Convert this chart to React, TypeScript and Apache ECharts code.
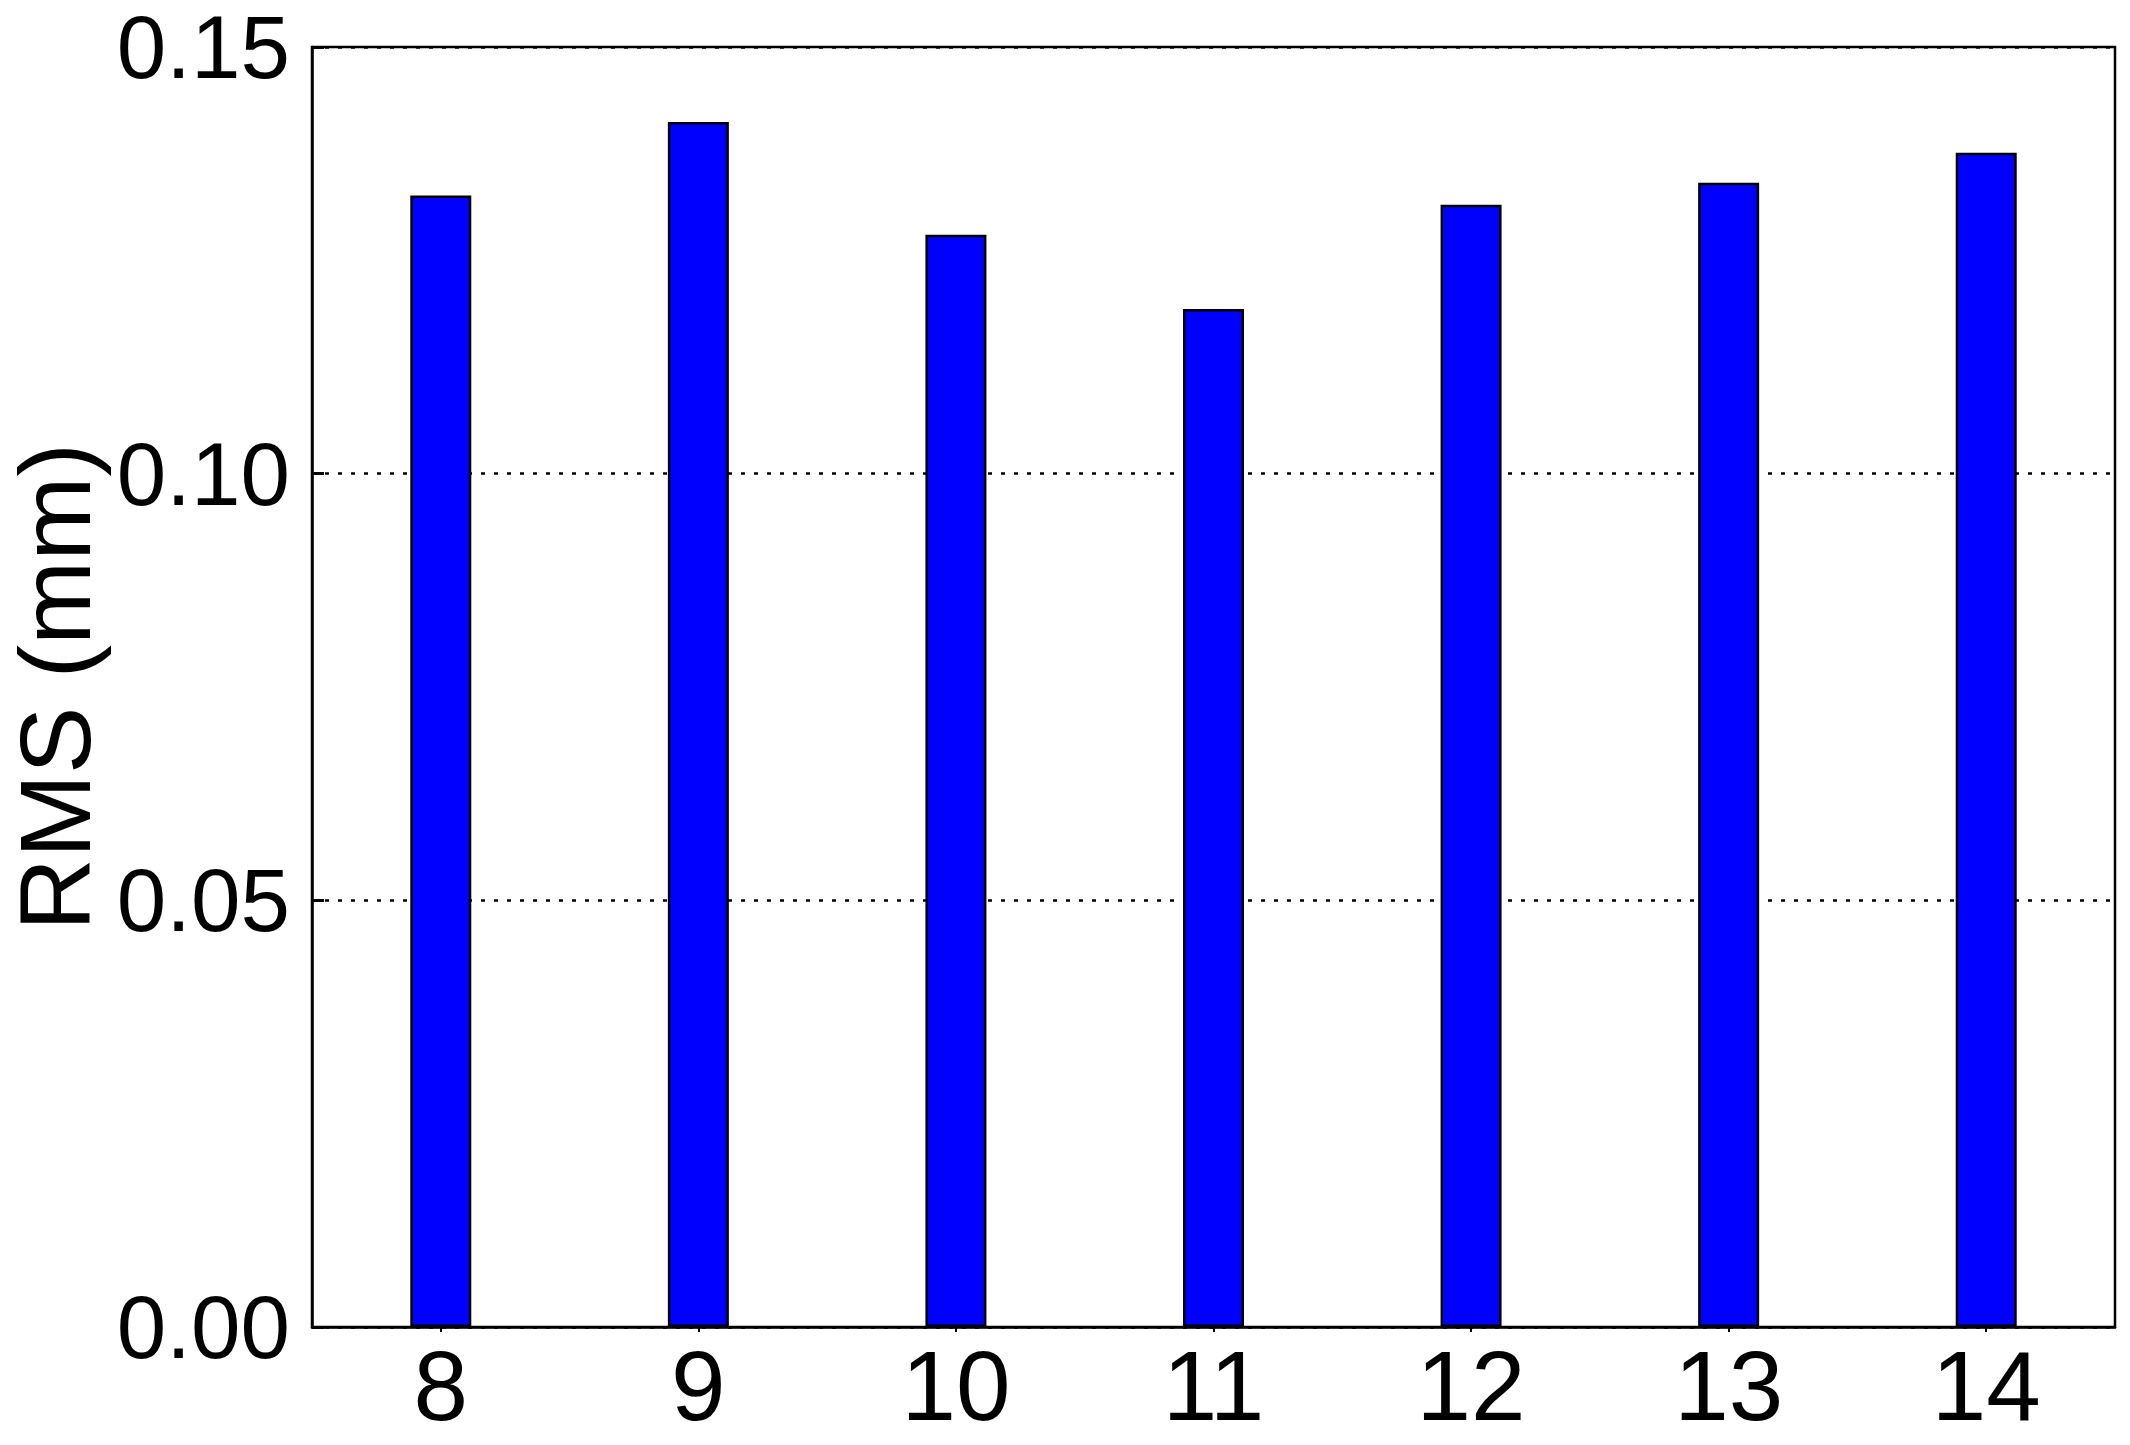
import React, { useEffect, useRef } from 'react';
import * as echarts from 'echarts';

const categories = ['8', '9', '10', '11', '12', '13', '14'];
const rmsValues = [0.1326, 0.1412, 0.128, 0.1193, 0.1315, 0.1341, 0.1376];
const yTicks = { min: 0, max: 0.15, interval: 0.05 };

const FONT = 'Liberation Sans, Arial, Helvetica, sans-serif';

export default function App() {
  const chartRef = useRef<HTMLDivElement>(null);

  useEffect(() => {
    document.body.style.margin = '0';
    if (!chartRef.current) return;
    const chart = echarts.init(chartRef.current, null, { renderer: 'svg' });

    const option = {
      animation: false,
      backgroundColor: '#fff',
      grid: {
        left: 312,
        right: 15,
        top: 47,
        bottom: 118,
        show: true,
        borderColor: '#000',
        borderWidth: 2.5,
        containLabel: false,
        outerBoundsMode: 'none'
      },
      xAxis: {
        type: 'category',
        data: categories,
        boundaryGap: true,
        axisLine: { show: true, lineStyle: { color: '#000', width: 2.5 } },
        axisTick: { show: true, alignWithLabel: true, length: 5, lineStyle: { color: '#000', width: 2 } },
        axisLabel: {
          color: '#000',
          fontFamily: FONT,
          fontSize: 98,
          lineHeight: 90,
          margin: 14
        },
        splitLine: { show: false }
      },
      yAxis: {
        type: 'value',
        min: yTicks.min,
        max: yTicks.max,
        interval: yTicks.interval,
        name: 'RMS (mm)',
        nameLocation: 'middle',
        nameGap: 205,
        nameTextStyle: { color: '#000', fontFamily: FONT, fontSize: 101, lineHeight: 90 },
        axisLine: { show: true, lineStyle: { color: '#000', width: 2.5 } },
        axisTick: { show: true, inside: true, length: 12, lineStyle: { color: '#000', width: 3 } },
        axisLabel: {
          color: '#000',
          fontFamily: FONT,
          fontSize: 89,
          lineHeight: 70,
          margin: 22,
          formatter: (v: number) => v.toFixed(2)
        },
        splitLine: {
          show: true,
          lineStyle: { color: '#000', width: 2.5, type: [4, 9] }
        }
      },
      series: [
        {
          type: 'bar',
          data: rmsValues,
          barWidth: 61,
          itemStyle: { color: '#0000ff', borderColor: '#000', borderWidth: 2.5 }
        }
      ]
    };

    chart.setOption(option);
    return () => chart.dispose();
  }, []);

  return <div ref={chartRef} style={{ width: 2130, height: 1445 }} />;
}
